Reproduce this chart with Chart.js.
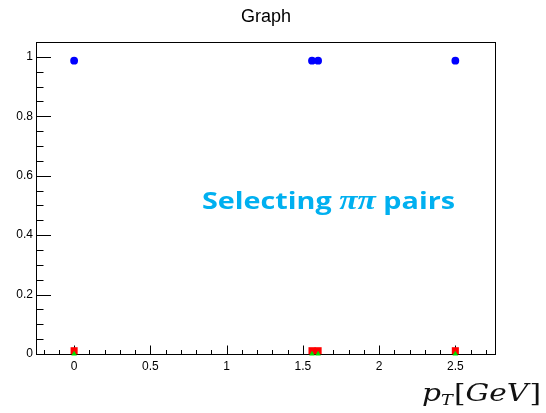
<!DOCTYPE html>
<html>
<head>
<meta charset="utf-8">
<script src="https://cdn.jsdelivr.net/npm/chart.js@4"></script>
<style>
  html, body { margin: 0; padding: 0; background: #fff; }
  canvas { display: block; }
</style>
</head>
<body>
<canvas id="graph" width="546" height="413"></canvas>
<script>
// pT positions of the points
const ptValues = [0, 1.56, 1.6, 2.5];
// three series
const blueSeries = [0.987, 0.987, 0.987, 0.987];
const redSeries = [0.011, 0.011, 0.011, 0.011];
const greenSeries = [0, 0, 0, 0];
// axis tick labels
const xTickValues = [0, 0.5, 1, 1.5, 2, 2.5];
const yTickValues = [0, 0.2, 0.4, 0.6, 0.8, 1];

const toPoints = ys => ptValues.map((x, i) => ({ x, y: ys[i] }));
const fmt = v => String(+v.toFixed(2));

// draw a list of text runs starting at x, squeezed/stretched to a given width
function drawRuns(ctx, runs, x, baseline, width) {
  let natural = 0;
  runs.forEach(r => {
    ctx.font = r.font;
    natural += ctx.measureText(r.text).width + (r.gap || 0);
  });
  const sx = width / natural;
  ctx.save();
  ctx.translate(x, baseline);
  ctx.scale(sx, 1);
  let cx = 0;
  runs.forEach(r => {
    ctx.font = r.font;
    ctx.fillText(r.text, cx, r.dy || 0);
    cx += ctx.measureText(r.text).width + (r.gap || 0);
  });
  ctx.restore();
}

// ROOT-like frame with inward ticks
const frameTicks = {
  id: "frameTicks",
  beforeDatasetsDraw(chart) {
    const { ctx, chartArea: a, scales: { x, y } } = chart;
    const L = Math.round(a.left) + 0.5, R = Math.round(a.right) + 0.5;
    const T = Math.round(a.top) + 0.5, B = Math.round(a.bottom) + 0.5;
    ctx.save();
    ctx.strokeStyle = "#000";
    ctx.lineWidth = 1;
    ctx.strokeRect(L, T, R - L, B - T);
    ctx.beginPath();
    // x ticks: minor every 0.1, major every 0.5
    for (let k = Math.ceil(x.min * 10); k <= Math.floor(x.max * 10); k++) {
      const px = Math.round(x.getPixelForValue(k / 10)) + 0.5;
      const len = k % 5 === 0 ? 9 : 4.5;
      ctx.moveTo(px, B);
      ctx.lineTo(px, B - len);
    }
    // y ticks: minor every 0.05, major every 0.2
    for (let k = 0; k <= Math.floor(y.max * 20 + 1e-6); k++) {
      const py = Math.round(y.getPixelForValue(k / 20)) + 0.5;
      const len = k % 4 === 0 ? 14.5 : 7;
      ctx.moveTo(L, py);
      ctx.lineTo(L + len, py);
    }
    ctx.stroke();
    ctx.restore();
  },
  afterDraw(chart) {
    const { ctx } = chart;
    ctx.save();
    ctx.textBaseline = "alphabetic";
    ctx.textAlign = "left";

    // title
    ctx.fillStyle = "#000";
    ctx.font = "18px 'Liberation Sans', Arial, sans-serif";
    ctx.textAlign = "center";
    ctx.fillText("Graph", 266, 22);
    ctx.textAlign = "left";

    // annotation
    ctx.fillStyle = "#00B0F0";
    const sans = "bold 24px 'Open Sans', Lato, sans-serif";
    drawRuns(ctx, [
      { text: "Selecting ", font: sans },
      { text: "ππ", font: "italic bold 28px 'Liberation Serif', serif" },
      { text: " pairs", font: sans }
    ], 202, 209, 253);

    // axis title p_T[GeV]
    ctx.fillStyle = "#111";
    const serif = "25px 'DejaVu Serif', serif";
    const iserif = "italic 25px 'DejaVu Serif', serif";
    drawRuns(ctx, [
      { text: "p", font: iserif },
      { text: "T", font: "italic 15px 'DejaVu Serif', serif", dy: 4, gap: 1 },
      { text: "[", font: serif },
      { text: "GeV", font: iserif, gap: 1 },
      { text: "]", font: serif }
    ], 422, 401, 119);
    ctx.restore();
  }
};

new Chart(document.getElementById("graph"), {
  type: "scatter",
  data: {
    datasets: [
      {
        label: "green",
        data: toPoints(greenSeries),
        pointStyle: "triangle",
        pointRadius: 3.2,
        backgroundColor: "#00e000",
        borderWidth: 0,
        clip: false
      },
      {
        label: "red",
        data: toPoints(redSeries),
        pointStyle: "rect",
        pointRadius: 5,
        backgroundColor: "#ff0000",
        borderWidth: 0,
        clip: false
      },
      {
        label: "blue",
        data: toPoints(blueSeries),
        pointStyle: "circle",
        pointRadius: 3.9,
        backgroundColor: "#0000ff",
        borderWidth: 0,
        clip: false
      }
    ]
  },
  options: {
    responsive: false,
    animation: false,
    layout: { padding: { left: 0, top: 42, right: 51, bottom: 39 } },
    plugins: {
      legend: { display: false },
      tooltip: { enabled: false }
    },
    scales: {
      x: {
        type: "linear",
        min: -0.25,
        max: 2.76,
        grid: { display: false, drawTicks: false },
        border: { display: false },
        ticks: {
          color: "#000",
          font: { family: "'Liberation Sans', Arial, sans-serif", size: 12 },
          padding: 5,
          maxRotation: 0,
          autoSkip: false,
          callback: fmt
        },
        afterBuildTicks: s => { s.ticks = xTickValues.map(v => ({ value: v })); },
        afterFit: s => { s.height = 20; }
      },
      y: {
        type: "linear",
        min: 0,
        max: 1.05,
        grid: { display: false, drawTicks: false },
        border: { display: false },
        ticks: {
          color: "#000",
          font: { family: "'Liberation Sans', Arial, sans-serif", size: 12 },
          padding: 3,
          autoSkip: false,
          callback: fmt
        },
        afterBuildTicks: s => { s.ticks = yTickValues.map(v => ({ value: v })); },
        afterFit: s => { s.width = 36; }
      }
    }
  },
  plugins: [frameTicks]
});
</script>
</body>
</html>
